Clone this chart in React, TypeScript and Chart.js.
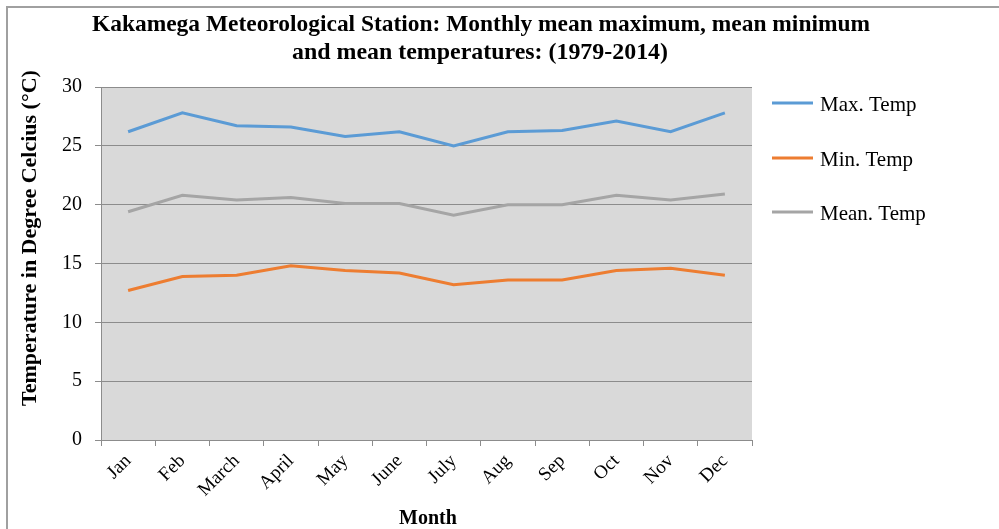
import React, { useEffect, useRef } from "react";
import { Chart, registerables } from "chart.js";

Chart.register(...registerables);

const months = ["Jan", "Feb", "March", "April", "May", "June", "July", "Aug", "Sep", "Oct", "Nov", "Dec"];
const maxTemp = [26.2, 27.8, 26.7, 26.6, 25.8, 26.2, 25.0, 26.2, 26.3, 27.1, 26.2, 27.8];
const minTemp = [12.7, 13.9, 14.0, 14.8, 14.4, 14.2, 13.2, 13.6, 13.6, 14.4, 14.6, 14.0];
const meanTemp = [19.4, 20.8, 20.4, 20.6, 20.1, 20.1, 19.1, 20.0, 20.0, 20.8, 20.4, 20.9];
const seriesLabels = ["Max. Temp", "Min. Temp", "Mean. Temp"];
const seriesColors = ["#5b9bd5", "#ed7d31", "#a5a5a5"];
const titleLines = [
  "Kakamega Meteorological Station: Monthly mean maximum, mean minimum",
  "and mean temperatures: (1979-2014)",
];
const yTitle = "Temperature in Degree Celcius (°C)";
const xTitle = "Month";

const SERIF = '"Liberation Serif", "Times New Roman", serif';

const decorPlugin = {
  id: "decor",
  beforeDraw(chart: any) {
    const { ctx, chartArea } = chart;
    ctx.save();
    ctx.fillStyle = "#ffffff";
    ctx.fillRect(0, 0, chart.width, chart.height);
    ctx.strokeStyle = "#a0a0a0";
    ctx.lineWidth = 2;
    ctx.strokeRect(7, 7, chart.width + 20, chart.height + 20);
    ctx.fillStyle = "#d9d9d9";
    ctx.fillRect(chartArea.left, chartArea.top, chartArea.right - chartArea.left, chartArea.bottom - chartArea.top);
    ctx.restore();
  },
  afterDraw(chart: any) {
    const { ctx } = chart;
    ctx.save();
    ctx.fillStyle = "#000000";
    ctx.textAlign = "center";
    ctx.textBaseline = "middle";
    ctx.font = `bold 24px ${SERIF}`;
    ctx.fillText(titleLines[0], 481, 25, 778);
    ctx.fillText(titleLines[1], 480, 53, 376);

    ctx.font = `bold 20px ${SERIF}`;
    ctx.fillText(xTitle, 428, 519);

    ctx.save();
    ctx.translate(30, 238);
    ctx.rotate(-Math.PI / 2);
    ctx.font = `bold 22px ${SERIF}`;
    ctx.fillText(yTitle, 0, 0, 345);
    ctx.restore();

    // legend
    const ys = [103, 158, 212];
    ctx.textAlign = "left";
    ctx.font = `21px ${SERIF}`;
    chart.data.datasets.forEach((ds: any, i: number) => {
      ctx.strokeStyle = ds.borderColor;
      ctx.lineWidth = 3;
      ctx.beginPath();
      ctx.moveTo(772, ys[i]);
      ctx.lineTo(813, ys[i]);
      ctx.stroke();
      ctx.fillStyle = "#000000";
      ctx.fillText(ds.label, 820, ys[i] + 2);
    });
    ctx.restore();
  },
};

export default function App() {
  const ref = useRef<HTMLCanvasElement>(null);
  useEffect(() => {
    document.body.style.margin = "0";
    const canvas = ref.current!;
    const data = [maxTemp, minTemp, meanTemp];
    const chart = new Chart(canvas, {
      type: "line",
      data: {
        labels: months,
        datasets: data.map((d, i) => ({
          label: seriesLabels[i],
          data: d,
          borderColor: seriesColors[i],
          backgroundColor: seriesColors[i],
          borderWidth: 3,
          pointRadius: 0,
          tension: 0,
        })),
      },
      options: {
        responsive: false,
        animation: false,
        layout: { padding: { top: 87, right: 247, bottom: 0, left: 0 } },
        plugins: {
          legend: { display: false },
          title: { display: false },
          tooltip: { enabled: false },
        },
        scales: {
          x: {
            offset: true,
            grid: {
              offset: true,
              drawOnChartArea: false,
              drawTicks: true,
              tickLength: 6,
              color: "#8c8c8c",
            },
            border: { color: "#8c8c8c", width: 1 },
            ticks: {
              autoSkip: false,
              maxRotation: 45,
              minRotation: 45,
              padding: 4,
              color: "#000000",
              font: { family: SERIF, size: 19 },
            },
            afterFit(scale: any) {
              scale.height = 89;
            },
          },
          y: {
            min: 0,
            max: 30,
            ticks: {
              stepSize: 5,
              padding: 13,
              color: "#000000",
              font: { family: SERIF, size: 20 },
            },
            grid: { color: "#8c8c8c", tickLength: 6, lineWidth: 1 },
            border: { color: "#8c8c8c", width: 1 },
            afterFit(scale: any) {
              scale.width = 101;
            },
          },
        },
      },
      plugins: [decorPlugin],
    });
    return () => chart.destroy();
  }, []);
  return <canvas ref={ref} width={999} height={529} style={{ display: "block" }} />;
}
